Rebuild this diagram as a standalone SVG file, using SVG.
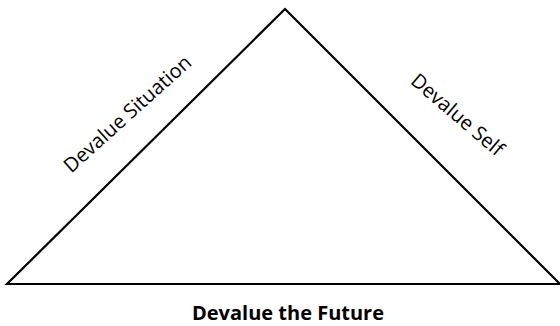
<svg xmlns="http://www.w3.org/2000/svg" width="560" height="326" viewBox="0 0 560 326">
<style>
.edge{fill:none;stroke:#000;stroke-width:2.2;stroke-linejoin:miter}
.lbl{font-family:"Open Sans","Liberation Sans",sans-serif;font-size:20px;fill:#000;text-anchor:middle}
.b{font-weight:bold}
</style>
<rect width="560" height="326" fill="#fff"/>
<g id="connectors">
<polygon class="edge" points="285,9 7,284 560,284"/>
</g>
<g id="left"><text class="lbl" transform="translate(132,119) rotate(-42)">Devalue Situation</text></g>
<g id="right"><text class="lbl" transform="translate(453,120) rotate(40.5)">Devalue Self</text></g>
<g id="bottom"><text class="lbl b" x="288" y="320">Devalue the Future</text></g>
</svg>
